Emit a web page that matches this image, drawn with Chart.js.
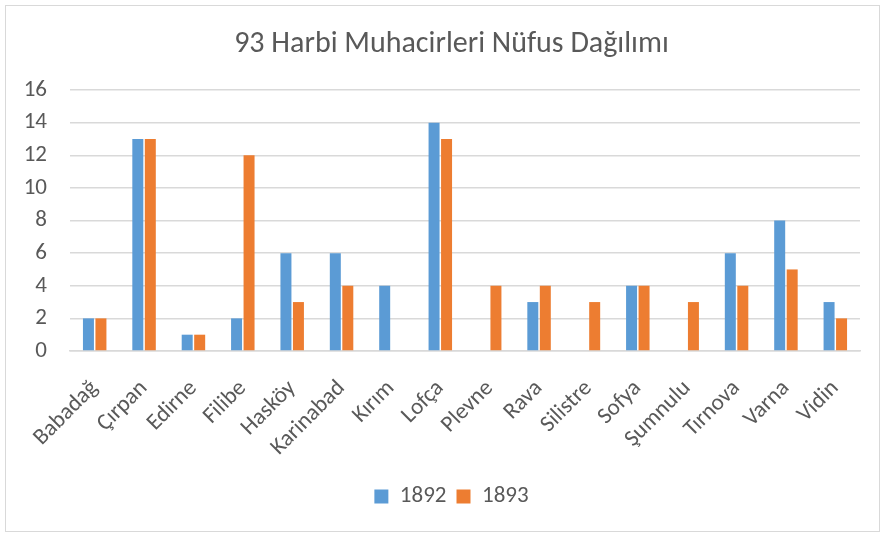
<!DOCTYPE html>
<html>
<head>
<meta charset="utf-8">
<script src="https://cdn.jsdelivr.net/npm/chart.js@4/dist/chart.umd.min.js"></script>
<style>
  body{margin:0;background:#fff;}
  #wrap{position:relative;width:884px;height:537px;}
  #frame{position:absolute;left:5px;top:5px;width:873px;height:525px;border:1px solid #d9d9d9;pointer-events:none;}
  canvas{display:block;}
</style>
</head>
<body>
<div id="wrap">
  <canvas id="chart" width="884" height="537"></canvas>
  <div id="frame"></div>
</div>
<script>
// categories and values
const cities=['Babadağ','Çırpan','Edirne','Filibe','Hasköy','Karinabad','Kırım','Lofça','Plevne','Rava','Silistre','Sofya','Şumnulu','Tırnova','Varna','Vidin'];
const values1892=[2,13,1,2,6,6,4,14,null,3,null,4,null,6,8,3];
const values1893=[2,13,1,12,3,4,null,13,4,4,3,4,3,4,5,2];
const yTicks=[0,2,4,6,8,10,12,14,16];

const textColor='#595959';
const fontName="Carlito, 'Open Sans', sans-serif";

let ctx=document.getElementById('chart').getContext('2d');

new Chart(ctx,{
    type:'bar',
    data:{
        labels:cities,
        datasets:[
            {label:'1892',data:values1892,backgroundColor:'#5B9BD5',categoryPercentage:0.506,barPercentage:0.88},
            {label:'1893',data:values1893,backgroundColor:'#ED7D31',categoryPercentage:0.506,barPercentage:0.88}
        ]
    },
    options:{
        responsive:false,
        animation:false,
        layout:{padding:{left:19,right:0,top:0,bottom:19}},
        plugins:{
            title:{
                display:true,
                text:'93 Harbi Muhacirleri Nüfus Dağılımı',
                color:textColor,
                font:{family:fontName,size:30,weight:'normal',lineHeight:1.2},
                padding:{top:26,bottom:28}
            },
            legend:{
                position:'bottom',
                labels:{
                    color:textColor,
                    font:{family:fontName,size:23},
                    boxWidth:14,
                    boxHeight:14,
                    padding:10
                }
            },
            tooltip:{enabled:false}
        },
        scales:{
            x:{
                grid:{display:false,drawTicks:false},
                border:{display:true,color:'#d9d9d9',width:1.5},
                ticks:{
                    color:textColor,
                    font:{family:fontName,size:23},
                    maxRotation:45,
                    minRotation:45,
                    autoSkip:false,
                    padding:24
                },
                afterFit:(axis)=>{axis.height=124}
            },
            y:{
                min:0,
                max:16,
                afterBuildTicks:(axis)=>{axis.ticks=yTicks.map(v=>({value:v}))},
                grid:{color:'#d9d9d9',lineWidth:1.5,drawTicks:false},
                border:{display:false},
                ticks:{
                    color:textColor,
                    font:{family:fontName,size:23},
                    padding:23
                },
                afterFit:(axis)=>{axis.width=51}
            },
            // empty axis on the right, only keeps the plot off the right edge
            yRight:{
                position:'right',
                display:true,
                grid:{display:false,drawTicks:false},
                border:{display:false},
                ticks:{display:false},
                afterFit:(axis)=>{axis.width=24}
            }
        }
    }
})
</script>
</body>
</html>
